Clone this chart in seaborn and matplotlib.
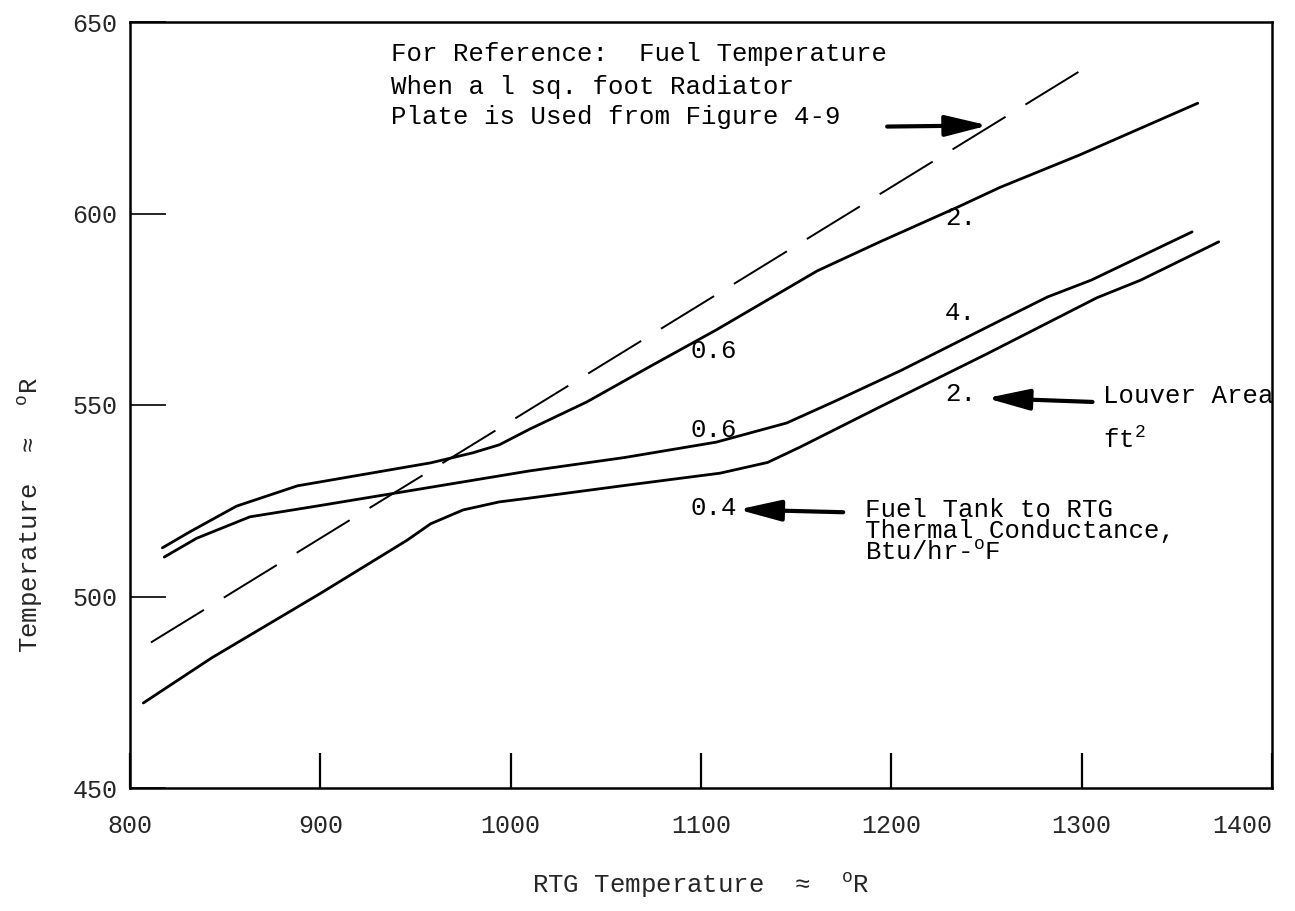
import matplotlib
matplotlib.use("Agg")
import matplotlib.pyplot as plt
import seaborn as sns

# ---------------- data ----------------
x_ticks = [800, 900, 1000, 1100, 1200, 1300, 1400]
y_ticks = [450, 500, 550, 600, 650]

# Conductance 0.6, louver area 2 ft^2 (upper curve)
upper_x = [817, 831.5, 856, 888, 958, 980, 994, 1010, 1040, 1073, 1108, 1161, 1194, 1235, 1257, 1299, 1361]
upper_y = [512.7, 516.9, 523.6, 528.9, 534.9, 537.5, 539.6, 543.7, 550.8, 560.0, 569.6, 585.0, 592.6, 601.7, 606.8, 615.3, 628.8]

# Conductance 0.6, louver area 4 ft^2 (middle curve)
middle_x = [818, 835, 863, 898, 937, 1010, 1060, 1108, 1145, 1170, 1205, 1257, 1282, 1305, 1358]
middle_y = [510.3, 515.2, 520.8, 523.6, 526.8, 532.8, 536.3, 540.3, 545.3, 550.9, 559.0, 572.0, 578.2, 582.6, 595.2]

# Conductance 0.4, louver area 2 ft^2 (lower curve)
lower_x = [807, 843, 900, 945.6, 958, 975, 994, 1010, 1060, 1110, 1135, 1152, 1194, 1250, 1308, 1331, 1372]
lower_y = [472.2, 484.0, 500.8, 514.7, 519.0, 522.6, 524.7, 525.7, 529.0, 532.2, 535.0, 539.0, 549.5, 563.3, 578.0, 582.6, 592.6]

# Reference: 1 sq. ft radiator plate (Figure 4-9)
ref_x = [811, 1305]
ref_y = [488, 639]

# ---------------- styling ----------------
sns.set_style("white")
plt.rcParams["font.family"] = ["Liberation Mono", "DejaVu Sans Mono", "DejaVu Sans"]
plt.rcParams["mathtext.default"] = "regular"

fig = plt.figure(figsize=(12.95, 9.11), dpi=100)
ax = fig.add_axes([130 / 1295, 1 - 788 / 911, 1142 / 1295, 766 / 911])

for xs, ys in [(upper_x, upper_y), (middle_x, middle_y), (lower_x, lower_y)]:
    sns.lineplot(x=xs, y=ys, ax=ax, color="black", lw=2.0, sort=False, estimator=None)

sns.lineplot(x=ref_x, y=ref_y, ax=ax, color="black", lw=1.4, sort=False,
             estimator=None, linestyle=(0, (32, 12)))

ax.set_xlim(800, 1400)
ax.set_ylim(450, 650)
ax.set_xticks(x_ticks)
ax.set_xticklabels([str(v) for v in x_ticks])
ax.set_yticks(y_ticks)
ax.set_yticklabels([str(v) for v in y_ticks])
ax.tick_params(axis="x", bottom=True, direction="in", length=25, width=1.6, pad=19,
               labelsize=18, color="black")
ax.tick_params(axis="y", left=True, direction="in", length=26, width=1.2, pad=9,
               labelsize=18, color="black")
ax.get_xticklabels()[-1].set_horizontalalignment("right")
for s in ax.spines.values():
    s.set_visible(True)
    s.set_linewidth(1.8)
    s.set_color("black")

ax.set_xlabel(r"RTG Temperature  ≈  $^{o}$R", fontsize=18.5)
ax.xaxis.set_label_coords(0.5, -0.108)
ax.set_ylabel(r"Temperature  ≈  $^{o}$R", fontsize=18.5)
ax.yaxis.set_label_coords(-0.074, 0.356)

fs = 18.5
txt = dict(fontsize=fs, ha="left", va="baseline", color="black")

# Reference note
ax.text(937, 639.8, "For Reference:  Fuel Temperature", **txt)
ax.text(937, 631.1, "When a l sq. foot Radiator", **txt)
ax.text(937, 623.3, "Plate is Used from Figure 4-9", **txt)

# Curve labels
ax.text(1094.3, 562.3, "0.6", **txt)
ax.text(1228.3, 597.0, "2.", **txt)
ax.text(1228.3, 572.2, "4.", **txt)
ax.text(1094.3, 541.7, "0.6", **txt)
ax.text(1228.3, 551.1, "2.", **txt)
ax.text(1094.3, 521.3, "0.4", **txt)

# Louver area note
ax.text(1311.3, 550.5, "Louver Area", clip_on=False, **txt)
ax.text(1311.3, 538.8, r"ft$^{2}$", **txt)

# Conductance note
ax.text(1186, 520.8, "Fuel Tank to RTG", **txt)
ax.text(1186, 515.2, "Thermal Conductance,", **txt)
ax.text(1186, 509.5, r"Btu/hr-$^{o}$F", **txt)

arrow = dict(arrowstyle="-|>,head_length=1.3,head_width=0.32", lw=3.0,
             color="black", mutation_scale=20, shrinkA=0, shrinkB=0)
ax.annotate("", xy=(1250.9, 623.0), xytext=(1197.8, 622.7), arrowprops=arrow)
ax.annotate("", xy=(1250.0, 551.8), xytext=(1305.7, 550.8), arrowprops=arrow)
ax.annotate("", xy=(1119.5, 522.7), xytext=(1174.7, 522.0), arrowprops=arrow)

fig.savefig("out.png", dpi=100)
